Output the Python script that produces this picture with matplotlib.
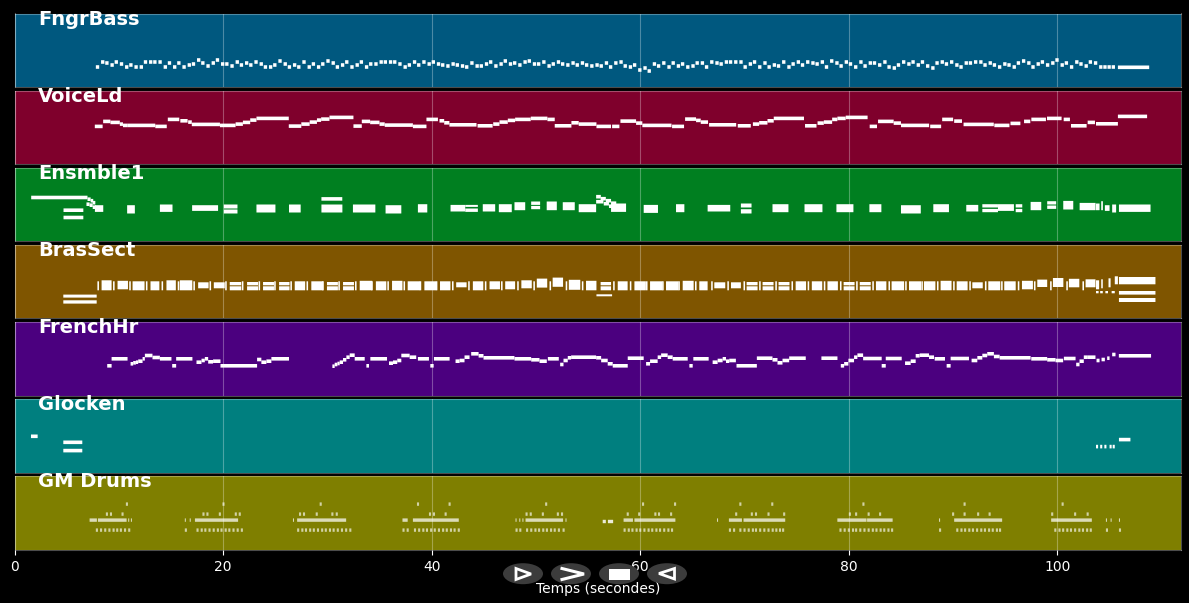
import matplotlib
matplotlib.use("Agg")
import matplotlib.pyplot as plt
from matplotlib.patches import Ellipse, Polygon, Rectangle

W, H = 1189, 603

track_names = ["FngrBass", "VoiceLd", "Ensmble1", "BrasSect", "FrenchHr", "Glocken", "GM Drums"]
track_colors = ["#00587f", "#7f002c", "#007f20", "#7f5500", "#4b007f", "#007f7f", "#7f7f00"]
track_tops = [13.5, 90.6, 167.7, 244.8, 322, 399.1, 476.3]
x_ticks = [0, 20, 40, 60, 80, 100]

bass_starts = [
    7.8, 8.3, 8.7, 9.2, 9.6, 10.1, 10.6, 11.0, 11.5, 12.0,
    12.4, 12.9, 13.3, 13.8, 14.3, 14.7, 15.2, 15.6, 16.1, 16.6,
    17.0, 17.5, 17.9, 18.4, 18.9, 19.3, 19.8, 20.2, 20.7, 21.2,
    21.6, 22.1, 22.5, 23.0, 23.5, 23.9, 24.4, 24.8, 25.3, 25.8,
    26.2, 26.7, 27.1, 27.6, 28.1, 28.5, 29.0, 29.4, 29.9, 30.4,
    30.8, 31.3, 31.7, 32.2, 32.7, 33.1, 33.6, 34.0, 34.5, 35.0,
    35.4, 35.9, 36.3, 36.8, 37.3, 37.7, 38.2, 38.6, 39.1, 39.6,
    40.0, 40.5, 40.9, 41.4, 41.9, 42.3, 42.8, 43.2, 43.7, 44.2,
    44.6, 45.1, 45.5, 46.0, 46.5, 46.9, 47.4, 47.8, 48.3, 48.8,
    49.2, 49.7, 50.1, 50.6, 51.1, 51.5, 52.0, 52.4, 52.9, 53.4,
    53.8, 54.3, 54.7, 55.2, 55.7, 56.1, 56.6, 57.0, 57.5, 58.0,
    58.4, 58.9, 59.3, 59.8, 60.3, 60.7, 61.2, 61.6, 62.1, 62.6,
    63.0, 63.5, 63.9, 64.4, 64.9, 65.3, 65.8, 66.2, 66.7, 67.2,
    67.6, 68.1, 68.5, 69.0, 69.5, 69.9, 70.4, 70.8, 71.3, 71.8,
    72.2, 72.7, 73.1, 73.6, 74.1, 74.5, 75.0, 75.4, 75.9, 76.4,
    76.8, 77.3, 77.7, 78.2, 78.7, 79.1, 79.6, 80.0, 80.5, 81.0,
    81.4, 81.9, 82.3, 82.8, 83.3, 83.7, 84.2, 84.6, 85.1, 85.6,
    86.0, 86.5, 86.9, 87.4, 87.9, 88.3, 88.8, 89.2, 89.7, 90.2,
    90.6, 91.1, 91.5, 92.0, 92.5, 92.9, 93.4, 93.8, 94.3, 94.8,
    95.2, 95.7, 96.1, 96.6, 97.1, 97.5, 98.0, 98.4, 98.9, 99.4,
    99.8, 100.3, 100.7, 101.2, 101.7, 102.1, 102.6, 103.0, 103.5, 104.0,
    104.4, 104.8, 105.2,
]
bass_pitches = [
    21, 26, 25, 23, 26, 24, 21, 23, 21, 21,
    26, 26, 26, 26, 21, 25, 21, 25, 21, 23,
    24, 28, 25, 22, 25, 28, 24, 24, 22, 26,
    23, 25, 23, 26, 24, 21, 21, 23, 27, 24,
    21, 23, 21, 26, 21, 24, 21, 24, 27, 25,
    21, 23, 26, 21, 23, 26, 21, 24, 24, 26,
    26, 26, 26, 24, 21, 23, 26, 23, 26, 24,
    26, 24, 23, 22, 24, 23, 22, 21, 25, 22,
    22, 24, 26, 22, 24, 27, 24, 25, 23, 26,
    27, 24, 24, 26, 22, 24, 26, 24, 23, 25,
    23, 25, 23, 22, 23, 22, 25, 21, 25, 26,
    22, 21, 23, 18, 20, 17, 24, 22, 25, 21,
    25, 22, 24, 21, 22, 25, 25, 21, 26, 25,
    24, 26, 26, 26, 26, 21, 24, 26, 21, 25,
    21, 23, 22, 26, 21, 24, 26, 23, 26, 25,
    24, 26, 21, 27, 25, 22, 26, 24, 21, 26,
    22, 25, 25, 23, 26, 21, 20, 23, 26, 24,
    26, 23, 26, 22, 20, 25, 26, 24, 26, 23,
    21, 25, 25, 26, 26, 23, 25, 23, 21, 24,
    23, 21, 25, 27, 25, 21, 24, 26, 23, 25,
    28, 23, 25, 21, 26, 24, 22, 26, 25, 21,
    21, 21, 21,
]
bass_long = (105.8, 3.0, 20.7)

voice_starts = [
    7.7, 8.5, 9.2, 10.1, 10.4, 10.8, 13.5, 14.7, 15.9, 16.65, 17.0, 19.7, 21.2, 21.9, 22.6, 23.2,
    26.3, 27.5, 28.3, 29.0, 29.4, 30.2, 32.5, 33.3, 34.1, 35.0, 35.5, 38.2, 39.5, 40.75, 41.2, 41.7,
    44.4, 45.9, 46.5, 47.3, 48.0, 49.5, 51.1, 51.8, 53.4, 54.1, 55.8, 57.3, 58.1, 59.6, 60.2, 63.05,
    64.3, 65.35, 65.8, 66.6, 69.35, 70.8, 71.4, 72.2, 72.8, 75.8, 77.0, 77.6, 78.4, 78.9, 79.7, 82.0,
    82.8, 84.3, 85.0, 87.8, 88.95, 90.1, 91.0, 93.95, 95.5, 96.8, 97.5, 99.0, 100.6, 101.3, 102.9, 103.7, 105.8,
]
voice_durs = [
    0.75, 0.7, 0.9, 0.3, 0.4, 2.7, 1.1, 1.1, 0.7, 0.35, 2.7, 1.5, 0.7, 0.7, 0.6, 3.1,
    1.2, 0.8, 0.7, 0.4, 0.8, 2.3, 0.8, 0.8, 0.9, 0.5, 2.7, 1.3, 1.1, 0.45, 0.5, 2.6,
    1.45, 0.6, 0.8, 0.7, 1.5, 1.6, 0.7, 1.6, 0.7, 1.7, 1.4, 0.7, 1.5, 0.6, 2.8, 1.15,
    1.05, 0.45, 0.7, 2.6, 1.25, 0.6, 0.8, 0.6, 2.9, 1.1, 0.6, 0.8, 0.5, 0.8, 2.1, 0.7,
    1.5, 0.7, 2.7, 1.05, 1.05, 0.75, 2.9, 1.45, 0.95, 0.6, 1.4, 1.4, 0.6, 1.5, 0.7, 2.1, 2.8,
]
voice_pitches = [
    38.7, 43.7, 42.7, 41, 39.7, 39.7, 38.7, 45.7, 44.3, 43, 40.7, 39.7, 41, 42.7, 45, 46.7,
    39, 41, 43, 45, 46, 47.7, 39, 43.7, 42.7, 41, 40, 38.7, 45.7, 44.3, 42.3, 40.3,
    39.3, 41, 43, 44.7, 45.7, 46.7, 45.7, 39.3, 42.3, 41, 38.7, 38.7, 44, 42, 39.7, 38.7,
    46, 44.7, 43, 40.3, 39.3, 41, 42.3, 44.3, 46.7, 39.3, 42, 43, 45.7, 46.7, 47.7, 38.7,
    43.7, 42, 39.7, 38.7, 45.7, 44, 40.7, 39.7, 41.7, 43.7, 45.7, 46.7, 45.7, 39.3, 42.7, 41.3, 48.7,
]

ens_starts = [1.6, 4.7, 4.7, 7.0, 7.3, 7.5, 6.9, 7.2, 7.5, 29.43, 55.77, 56.2, 56.7, 57.2, 55.77, 56.5, 57.0]
ens_durs = [5.4, 1.9, 1.9, 0.3, 0.25, 0.25, 0.3, 0.3, 0.3, 2.0, 0.45, 0.5, 0.5, 0.5, 0.7, 0.5, 0.5]
ens_pitches = [44.7, 32, 24.7, 43, 41.5, 39.5, 38, 37, 35, 43.3, 45.5, 43.5, 41.5, 39, 40.5, 38.5, 36]

ens_block_starts = [
    7.71, 10.8, 13.94, 17.03, 20.07, 20.07, 23.2, 26.32, 29.43, 32.45, 35.58, 38.68, 41.81, 43.22, 43.22,
    44.9, 46.44, 47.94, 49.54, 49.54, 51.03, 52.57, 54.1, 57.2, 60.33, 63.43, 66.46, 69.65, 69.65,
    72.68, 75.75, 78.81, 81.97, 85.0, 88.1, 91.26, 92.8, 92.8, 94.3, 96.0, 96.0, 97.43, 99.02, 99.02,
    100.56, 102.13, 103.7, 104.2, 104.55, 105.25, 105.9,
]
ens_block_ends = [
    8.51, 11.54, 15.15, 19.52, 21.38, 21.38, 25.02, 27.44, 31.44, 34.6, 37.09, 39.58, 43.22, 44.43, 44.43,
    46.09, 47.68, 48.97, 50.4, 50.4, 52.0, 53.72, 55.77, 58.64, 61.7, 64.23, 68.63, 70.67, 70.67,
    74.21, 77.47, 80.44, 83.12, 86.9, 89.6, 92.41, 94.3, 94.3, 95.83, 96.63, 96.63, 98.45, 99.88, 99.88,
    101.52, 103.66, 104.04, 104.36, 105.0, 105.63, 108.93,
]
ens_block_lows = [
    30.3, 28.7, 30.3, 31.3, 33.7, 28.7, 29.7, 29.7, 29.7, 29.7, 28.7, 29.7, 30.7, 35.3, 30.3,
    30.7, 30, 32, 37.3, 33, 32, 32, 30, 30.3, 29.3, 30, 30.7, 34.7, 28.7,
    30, 30, 30, 30, 28.7, 30, 30.7, 34.7, 30, 31.3, 34.7, 30, 32, 37.7, 33.3,
    32.7, 32, 32, 32, 31.3, 29.7, 30.3,
]
ens_block_highs = [
    37, 37, 37.7, 37, 37.7, 32.7, 37.7, 37.7, 37.7, 37.7, 37, 38, 37.3, 37.3, 33.7,
    38, 38, 40, 40.7, 36.3, 40.7, 40, 38, 38.7, 37.3, 38, 37.3, 38.7, 33,
    38, 38, 38, 38, 37, 38, 37.3, 38, 33.3, 38, 38, 33.3, 40.3, 41, 36.7,
    41.3, 39.3, 38.7, 41, 37, 37.7, 37.7,
]

brass_starts = [
    4.68, 4.68, 8.35, 9.88, 11.32, 13.04, 14.57, 15.85, 17.61, 19.11,
    20.64, 20.64, 22.3, 22.3, 23.83, 23.83, 25.37, 25.37, 26.87, 28.46, 29.96, 29.96, 31.5, 31.5,
    33.1, 34.65, 36.2, 37.7, 39.3, 40.8, 42.35, 43.95, 45.55, 47.05, 48.6, 50.08, 51.6, 53.15, 54.8,
    56.2, 56.2, 55.8, 57.84, 59.44, 60.94, 62.47, 64.07, 65.66, 67.1, 68.7, 70.2, 70.2, 71.73, 71.73,
    73.26, 73.26, 74.9, 76.45, 77.95, 79.5, 79.5, 81.05, 81.05, 82.6, 84.1, 85.77, 87.2, 88.8, 90.34,
    91.84, 93.37, 94.9, 96.6, 98.07, 99.57, 101.1, 102.7, 103.7, 104.2, 104.9, 105.5,
    103.7, 104.1, 104.6, 105.2, 105.9, 105.9, 105.9,
]
brass_durs = [
    3.2, 3.2, 0.96, 1.0, 1.15, 0.85, 0.9, 1.2, 1.0, 1.05,
    1.1, 1.1, 1.05, 1.05, 1.05, 1.05, 1.0, 1.0, 1.0, 1.15, 1.05, 1.05, 1.05, 1.05,
    1.2, 1.0, 1.0, 1.2, 1.15, 1.0, 1.0, 1.0, 1.0, 0.95, 1.0, 1.0, 1.0, 1.1, 1.0,
    1.0, 1.0, 1.5, 0.95, 1.1, 1.2, 1.2, 1.05, 0.8, 1.05, 0.95, 1.05, 1.05, 1.05, 1.05,
    1.05, 1.05, 1.0, 1.0, 1.0, 1.05, 1.05, 1.05, 1.05, 1.0, 1.2, 1.15, 1.1, 1.05, 1.05,
    1.0, 1.15, 1.1, 1.05, 0.95, 1.0, 1.0, 0.95, 0.3, 0.15, 0.2, 0.3,
    0.25, 0.25, 0.25, 0.3, 3.5, 3.5, 3.5,
]
brass_lows = [
    21.7, 15.7, 29, 30, 29, 29, 29, 29, 31, 31,
    34, 29, 34, 29, 34, 29, 34, 29, 29, 29, 34, 29, 34, 29,
    29, 29, 29, 29, 29, 29, 32, 29, 30, 30, 31, 31.7, 32.5, 29.5, 29,
    34, 29, 23, 29, 29, 29, 29, 29, 29, 31, 31, 34, 29, 34, 29,
    34, 29, 29, 29, 29, 34, 29, 34, 29, 29, 29, 29, 29, 29, 29,
    31, 29, 29, 30, 32.3, 32.3, 32, 32, 30, 31, 32, 35,
    26, 26, 26, 26, 35, 24.7, 17.3,
]
brass_highs = [
    24.7, 19, 39, 38.5, 38, 38, 39, 39, 37, 37,
    37.3, 33, 37.3, 33, 37.3, 33, 37.3, 33, 38, 38, 37.3, 33, 37.3, 33,
    38.5, 38, 38.5, 38, 38, 38, 37, 38, 38, 38, 39, 40.7, 41.7, 39.5, 38.5,
    37.3, 33, 25, 38, 38, 38, 38, 38.5, 38, 37, 37, 37.3, 33, 37.3, 33,
    37.3, 33, 38, 38, 38, 37.3, 33, 37.3, 33, 38, 38, 38, 38, 38.5, 38,
    37, 38, 38, 38.5, 39.7, 41.3, 40.5, 40, 39, 40, 41, 43,
    28.3, 28.3, 28.3, 28.3, 42.3, 28.3, 21.3,
]
brass_ticks = [
    7.95, 9.45, 11.0, 12.6, 14.1, 15.65, 17.15, 18.7, 20.2, 21.8, 23.4, 24.9, 26.45, 28.0, 29.5, 31.05,
    32.65, 34.2, 35.75, 37.3, 38.85, 40.4, 41.95, 43.5, 45.1, 46.65, 48.2, 49.75, 51.3, 52.85, 54.4,
    57.4, 59.0, 60.55, 62.1, 63.65, 65.25, 66.8, 68.35, 69.9, 71.4, 72.95, 74.5, 76.05, 77.6, 79.15, 80.7,
    82.25, 83.8, 85.4, 86.95, 88.45, 90.0, 91.55, 93.05, 94.6, 96.2, 97.75, 99.3, 100.85, 102.4,
]

horn_starts = [
    8.89, 9.31, 11.13, 11.38, 11.64, 11.86, 12.28, 12.5, 13.23, 13.94, 15.12, 15.5, 17.45, 17.93, 18.25, 18.57, 19.04, 19.75, 23.26, 23.67, 24.15, 24.63,
    30.48, 30.7, 30.96, 31.18, 31.5, 31.82, 32.14, 32.62, 33.74, 34.12, 35.91, 36.29, 36.7, 37.09, 37.89, 38.68, 39.87, 40.22,
    42.29, 42.68, 43.15, 43.79, 44.5, 44.97, 47.94, 49.54, 50.34, 51.14, 52.32, 52.64, 53.05, 53.37, 55.77, 56.25, 56.88, 57.36, 58.8,
    60.56, 60.94, 61.67, 62.0, 62.63, 63.11, 64.71, 65.09, 66.94, 67.42, 67.9, 68.22, 68.53,
    69.23, 71.18, 72.68, 73.16, 73.64, 74.28, 77.37, 79.23, 79.55, 79.96, 80.5, 80.82, 81.37, 83.15, 83.54,
    85.39, 85.93, 86.41, 86.79, 87.69, 88.23, 89.38, 89.76, 91.77, 92.32, 92.8, 93.27, 93.91, 94.46, 97.49, 99.02, 99.82, 100.62,
    101.8, 102.12, 102.53, 102.85, 103.75, 104.23, 104.77, 105.25, 105.89,
]
horn_ends = [
    9.31, 10.84, 11.38, 11.64, 11.86, 12.28, 12.5, 13.23, 13.94, 15.05, 15.5, 17.06, 17.93, 18.25, 18.57, 19.04, 19.75, 23.26, 23.67, 24.15, 24.63, 26.32,
    30.7, 30.96, 31.18, 31.5, 31.82, 32.14, 32.62, 33.58, 33.99, 35.72, 36.29, 36.7, 37.09, 37.89, 38.52, 39.74, 40.19, 41.72,
    42.68, 43.15, 43.63, 44.5, 44.97, 47.94, 49.54, 50.34, 51.04, 52.19, 52.64, 53.05, 53.37, 55.77, 56.25, 56.88, 57.36, 58.8, 60.33,
    60.94, 61.67, 62.0, 62.63, 63.11, 64.55, 65.03, 66.56, 67.42, 67.9, 68.22, 68.53, 69.17,
    71.18, 72.68, 73.16, 73.64, 74.28, 75.87, 78.91, 79.55, 79.96, 80.5, 80.82, 81.37, 83.15, 83.54, 85.07,
    85.93, 86.41, 86.79, 87.69, 88.17, 89.22, 89.76, 91.52, 92.32, 92.8, 93.27, 93.91, 94.46, 97.43, 99.02, 99.82, 100.55, 101.74,
    102.12, 102.53, 102.85, 103.65, 104.04, 104.55, 105.0, 105.57, 108.98,
]
horn_pitches = [
    30.7, 37.7, 32.7, 33.7, 34.3, 35.3, 37.7, 41, 39, 37.7, 30.7, 37.7, 34.3, 36, 37.7, 34.7, 35.3, 30.7, 37, 34.3, 35.3, 37.7,
    30.3, 32, 33, 34.3, 36.7, 39.3, 41.3, 37.7, 30.7, 37.7, 33.3, 34.3, 36, 41, 39.3, 37.7, 30.7, 37.7,
    35.3, 36, 39.3, 42.7, 40.7, 38.7, 37.7, 36.7, 35.3, 37.7, 32, 36, 38.7, 39.3, 38.7, 36, 32.7, 30.7, 38.3,
    32.7, 35.3, 39.3, 41.3, 39.3, 37.7, 30.7, 37.7, 34.3, 36, 37.7, 35.3, 36,
    30.7, 38.3, 36.7, 33.7, 36, 38.3, 38.3, 30.7, 32.7, 36, 39.3, 41.3, 38, 30.7, 38,
    33.3, 35.3, 40.7, 41.3, 39.3, 37.7, 30.7, 38, 36, 38.7, 41, 42.7, 40, 38.7, 37.7, 36.7, 36, 38,
    32, 35.3, 39.3, 39.3, 36, 37, 38.3, 42, 40.7,
]

glock_starts = [1.58, 4.68, 4.68, 103.7, 104.1, 104.5, 105.0, 105.3, 105.9]
glock_durs = [0.64, 1.82, 1.82, 0.2, 0.2, 0.2, 0.2, 0.2, 1.1]
glock_pitches = [37.3, 31.3, 23, 27, 27, 27, 27, 27, 34]

drum_top = [10.68, 19.94, 29.26, 38.59, 41.62, 50.88, 60.17, 63.24, 69.5, 72.56, 81.3, 91.0, 100.4]
drum_mid = [
    8.76, 9.15, 10.26, 18.02, 18.4, 19.59, 21.12, 21.5, 27.28, 27.66, 28.88, 30.38, 30.8,
    39.74, 40.12, 41.24, 49.0, 49.4, 50.56, 52.0, 52.4, 58.7, 59.8, 61.35, 61.7, 62.86,
    69.1, 70.6, 71.0, 72.2, 73.7, 80.0, 80.6, 81.8, 82.9, 89.9, 91.0, 92.3, 93.4, 99.4, 101.6, 102.8,
]
drum_band_starts = [
    7.2, 8.0, 10.9, 11.16, 16.33, 16.8, 17.3, 26.7, 27.1, 37.2, 38.2, 48.04, 48.4, 48.7, 49.0, 52.83,
    58.4, 59.44, 67.36, 68.5, 69.9, 78.9, 81.75, 88.65, 90.1, 99.4, 104.65, 105.1, 105.9,
]
drum_band_ends = [
    7.9, 10.75, 11.0, 11.26, 16.43, 16.9, 21.44, 26.8, 31.8, 37.7, 42.6, 48.14, 48.5, 48.8, 52.6, 52.93,
    59.3, 63.37, 67.46, 69.75, 73.9, 81.7, 84.2, 88.75, 94.7, 103.3, 104.75, 105.2, 106.0,
]
drum_low = [
    7.8, 8.2, 8.6, 9.0, 9.4, 9.75, 10.1, 10.5, 10.9,
    16.33, 17.45, 17.85, 18.2, 18.6, 19.0, 19.4, 19.75, 20.15, 20.5, 20.9, 21.3, 21.7,
    27.1, 27.5, 27.85, 28.25, 28.6, 29.0, 29.4, 29.75, 30.15, 30.5, 30.9, 31.3, 31.7, 32.1,
    37.2, 37.6, 38.3, 38.7, 39.1, 39.45, 39.85, 40.2, 40.6, 41.0, 41.35, 41.75, 42.1, 42.5,
    48.04, 48.4, 49.05, 49.45, 49.85, 50.2, 50.6, 50.95, 51.35, 51.7, 52.1, 52.55,
    58.4, 58.8, 59.15, 59.55, 59.9, 60.3, 60.7, 61.05, 61.45, 61.8, 62.2, 62.6, 62.95,
    68.5, 68.9, 69.5, 69.9, 70.3, 70.7, 71.0, 71.4, 71.8, 72.2, 72.6, 72.95, 73.3, 73.6,
    79.1, 79.5, 79.9, 80.3, 80.6, 81.0, 81.4, 81.8, 82.2, 82.55, 82.95, 83.3, 83.7, 84.05,
    88.65, 90.3, 90.7, 91.05, 91.45, 91.8, 92.2, 92.6, 92.95, 93.35, 93.7, 94.1, 94.4,
    99.7, 100.1, 100.45, 100.85, 101.2, 101.6, 102.0, 102.35, 102.75, 103.1, 104.65, 105.9,
]


def diffs(ends, starts):
    return [e - s for s, e in zip(starts, ends)]


def notes(ax, starts, durs, pitches, height=3.6, **kw):
    ax.barh(pitches, durs, left=starts, height=height, color="white", linewidth=0, zorder=3, snap=False, **kw)


def blocks(ax, starts, ends, lows, highs):
    ax.bar(starts, diffs(highs, lows), width=diffs(ends, starts), bottom=lows,
           align="edge", color="white", linewidth=0, zorder=3, snap=False)


def hits(ax, starts, durs, pitch, alpha=0.65):
    ax.barh([pitch] * len(starts), durs, left=starts, height=3.4, color="white",
            alpha=alpha, linewidth=0, zorder=3, snap=False)


fig = plt.figure(figsize=(W / 100, H / 100), dpi=100, facecolor="black")
axes = []
for i, top in enumerate(track_tops):
    ax = fig.add_axes([14.5 / W, 1 - (top + 73.6) / H, 1166.5 / W, 73.6 / H])
    ax.set_facecolor(track_colors[i])
    ax.set_xlim(0, 111.85)
    ax.set_ylim(0.9, 74.5)
    ax.set_yticks([])
    ax.set_xticks(x_ticks)
    ax.grid(axis="x", color="white", alpha=0.3, linewidth=0.8, zorder=1)
    for s in ax.spines.values():
        s.set_color("#ffffff")
        s.set_alpha(0.3)
        s.set_linewidth(0.8)
    if i < len(track_tops) - 1:
        ax.tick_params(axis="x", length=0, labelbottom=False)
    else:
        ax.tick_params(axis="x", colors="white", labelsize=10)
        ax.set_xlabel("Temps (secondes)", color="white", fontsize=10, labelpad=6)
    ax.text(2.25, 0.925, track_names[i], transform=ax.get_xaxis_transform(), color="white",
            fontsize=14, fontweight="bold", va="center", ha="left", clip_on=False, zorder=6)
    axes.append(ax)

notes(axes[0], bass_starts, [0.32] * len(bass_starts), bass_pitches)
notes(axes[0], [bass_long[0]], [bass_long[1]], [bass_long[2]])
notes(axes[1], voice_starts, voice_durs, voice_pitches)
notes(axes[2], ens_starts, ens_durs, ens_pitches)
blocks(axes[2], ens_block_starts, ens_block_ends, ens_block_lows, ens_block_highs)
brass_ends = [s + d for s, d in zip(brass_starts, brass_durs)]
blocks(axes[3], brass_starts, brass_ends, brass_lows, brass_highs)
notes(axes[3], brass_ticks, [0.15] * len(brass_ticks), [33.5] * len(brass_ticks), height=9)
notes(axes[4], horn_starts, diffs(horn_ends, horn_starts), horn_pitches)
notes(axes[5], glock_starts, glock_durs, glock_pitches)

# drums: four rows of short hits, pale because they are so thin
d = axes[6]
hits(d, drum_top, [0.2] * len(drum_top), 46.7)
hits(d, drum_mid, [0.2] * len(drum_mid), 36.7)
hits(d, drum_band_starts, diffs(drum_band_ends, drum_band_starts), 30.7, alpha=0.72)
hits(d, drum_low, [0.2] * len(drum_low), 20.7)
hits(d, [56.4, 56.9], [0.3, 0.5], 29.3, alpha=0.85)

# player buttons sitting over the axis labels, in pixel coords
ui = fig.add_axes([0, 0, 1, 1], facecolor="none")
ui.set_xlim(0, W)
ui.set_ylim(H, 0)
ui.axis("off")
for cx in [523, 571, 619, 667]:
    ui.add_patch(Ellipse((cx, 573.7), 40, 21, facecolor="#3c3c3c", edgecolor="none"))
ui.add_patch(Polygon([(516, 568.5), (531, 574), (516, 579.5)], closed=True, fill=False, edgecolor="white", linewidth=2))
ui.plot([562, 584, 562], [568.5, 574, 579.5], color="white", linewidth=2.2, solid_joinstyle="miter")
ui.add_patch(Rectangle((608.5, 569), 21.5, 11, facecolor="white", edgecolor="none"))
ui.add_patch(Polygon([(659, 573.5), (674.5, 568.5), (674.5, 579)], closed=True, fill=False, edgecolor="white", linewidth=2))

fig.savefig("out.png", dpi=100, facecolor="black")
